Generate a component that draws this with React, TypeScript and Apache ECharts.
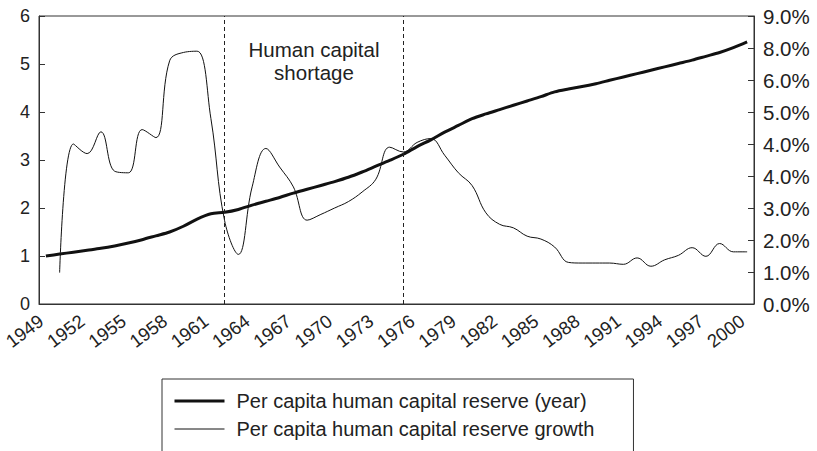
import React, { useEffect, useRef } from "react";
import * as echarts from "echarts";

const years: string[] = [];
for (let y = 1949; y <= 2000; y++) years.push(String(y));

// Per capita human capital reserve (years), left axis
const reserve = [
  1.0, 1.04, 1.08, 1.12, 1.16, 1.21, 1.27, 1.34, 1.42, 1.5,
  1.62, 1.77, 1.88, 1.91, 1.97, 2.06, 2.14, 2.22, 2.31, 2.39,
  2.47, 2.55, 2.64, 2.75, 2.87, 2.99, 3.12, 3.28, 3.42, 3.58,
  3.72, 3.86, 3.96, 4.05, 4.14, 4.23, 4.32, 4.42, 4.48, 4.53,
  4.59, 4.66, 4.73, 4.8, 4.87, 4.94, 5.01, 5.08, 5.16, 5.24,
  5.34, 5.46,
];

// Growth, in right-axis tick positions (0..9)
const growth: (number | null)[] = [
  null, 0.98, 5.0, 4.7, 5.38, 4.15, 4.1, 5.45, 5.2, 7.6,
  7.86, 7.9, 5.8, 2.6, 1.55, 3.66, 4.86, 4.28, 3.66, 2.62,
  2.8, 3.0, 3.2, 3.5, 3.9, 4.9, 4.75, 5.05, 5.17, 4.65,
  4.1, 3.7, 2.85, 2.49, 2.38, 2.12, 2.03, 1.78, 1.3, 1.28,
  1.28, 1.28, 1.24, 1.44, 1.18, 1.38, 1.52, 1.76, 1.49, 1.89,
  1.63, 1.63,
];

const leftTicks = ["0", "1", "2", "3", "4", "5", "6"];
const rightTicks = ["0.0%", "1.0%", "2.0%", "3.0%", "4.0%", "4.0%", "5.0%", "6.0%", "8.0%", "9.0%"];

const shortageStart = "1962";
const shortageEnd = "1975";
const shortageLabel = "Human capital\nshortage";

const seriesNames = [
  "Per capita human capital reserve (year)",
  "Per capita human capital reserve growth",
];

const FONT = "'Liberation Sans', Arial, Helvetica, sans-serif";
const INK = "#222";
const CHART_H = 490;

export default function App() {
  const ref = useRef<HTMLDivElement>(null);
  useEffect(() => {
    if (!ref.current) return;
    const chart = echarts.init(ref.current, null, { renderer: "svg" });
    chart.setOption({
      animation: false,
      backgroundColor: "#fff",
      textStyle: { fontFamily: FONT, color: INK },
      grid: {
        left: 39,
        right: 63,
        top: 16,
        bottom: 147 + (CHART_H - 451),
        show: true,
        borderColor: "#333",
        borderWidth: 1,
      },
      legend: {
        orient: "vertical",
        left: 162,
        top: 379,
        borderColor: "#333",
        borderWidth: 1,
        padding: [12, 39, 30, 11],
        itemWidth: 50,
        itemHeight: 20,
        itemGap: 8,
        itemStyle: { opacity: 0 },
        textStyle: { fontSize: 20, color: INK, fontFamily: FONT, padding: [0, 0, 0, 7] },
        data: [
          { name: seriesNames[0], lineStyle: { width: 3, color: "#111" } },
          { name: seriesNames[1], lineStyle: { width: 1, color: "#111" } },
        ],
      },
      xAxis: {
        type: "category",
        data: years,
        boundaryGap: true,
        axisLine: { lineStyle: { color: "#333", width: 1 } },
        axisTick: { inside: true, length: 6, interval: 0, lineStyle: { color: "#333" } },
        axisLabel: {
          interval: 2,
          rotate: 37,
          margin: 11,
          fontSize: 18.5,
          padding: [0, 6, 0, 0],
          color: INK,
          fontFamily: FONT,
        },
      },
      yAxis: [
        {
          type: "value",
          min: 0,
          max: 6,
          interval: 1,
          splitLine: { show: false },
          axisLine: { show: true, lineStyle: { color: "#333" } },
          axisTick: { show: true, inside: true, length: 6, lineStyle: { color: "#333" } },
          axisLabel: {
            fontSize: 18,
            color: INK,
            fontFamily: FONT,
            margin: 9,
            formatter: (v: number) => leftTicks[Math.round(v)] ?? "",
          },
        },
        {
          type: "value",
          min: 0,
          max: 9,
          interval: 1,
          position: "right",
          splitLine: { show: false },
          axisLine: { show: true, lineStyle: { color: "#333" } },
          axisTick: { show: true, inside: true, length: 6, lineStyle: { color: "#333" } },
          axisLabel: {
            fontSize: 20.5,
            color: INK,
            fontFamily: FONT,
            margin: 9,
            formatter: (v: number) => rightTicks[Math.round(v)] ?? "",
          },
        },
      ],
      series: [
        {
          name: seriesNames[0],
          type: "line",
          data: reserve,
          yAxisIndex: 0,
          smooth: 0.3,
          symbol: "none",
          lineStyle: { color: "#111", width: 3 },
          itemStyle: { color: "#111" },
          z: 3,
          markLine: {
            silent: true,
            symbol: ["none", "none"],
            label: { show: false },
            lineStyle: { type: [4, 3], color: "#222", width: 1 },
            data: [{ xAxis: shortageStart }, { xAxis: shortageEnd }],
          },
          markArea: {
            silent: true,
            itemStyle: { color: "rgba(0,0,0,0)" },
            label: {
              show: true,
              position: "insideTop",
              distance: 22,
              formatter: shortageLabel,
              fontSize: 20.5,
              lineHeight: 23,
              color: INK,
              fontFamily: FONT,
              align: "center",
            },
            data: [[{ xAxis: shortageStart }, { xAxis: shortageEnd }]],
          },
        },
        {
          name: seriesNames[1],
          type: "line",
          data: growth,
          yAxisIndex: 1,
          smooth: 0.4,
          symbol: "none",
          lineStyle: { color: "#111", width: 1 },
          itemStyle: { color: "#111" },
          z: 2,
        },
      ],
    });
    return () => chart.dispose();
  }, []);
  return (
    <div
      style={{
        position: "fixed",
        left: 0,
        top: 0,
        width: 817,
        height: 451,
        overflow: "hidden",
        background: "#fff",
      }}
    >
      <div ref={ref} style={{ width: 817, height: CHART_H }} />
    </div>
  );
}
